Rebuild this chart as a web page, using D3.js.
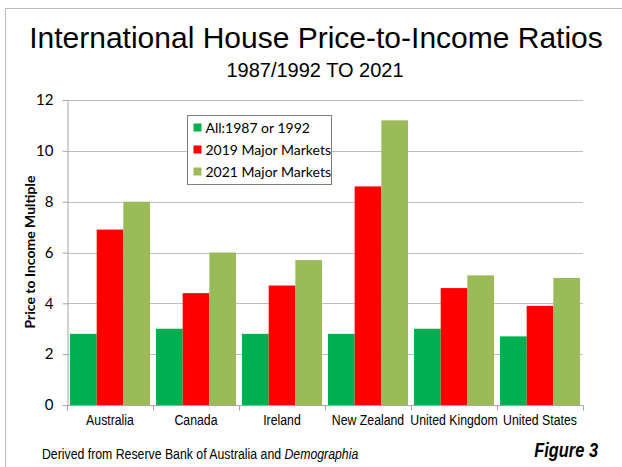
<!DOCTYPE html>
<html>
<head>
	<meta http-equiv="Content-Type" content="text/html;charset=utf-8"/>
	<title>International House Price-to-Income Ratios</title>
	<script src="https://d3js.org/d3.v7.min.js"></script>
	<style type="text/css">
		body { margin: 0; background: #fff; }
		.grid line { stroke: #bfbfbf; stroke-width: 1; }
		.axis path, .axis line { stroke: #a6a6a6; }
		.arial { font-family: "Liberation Sans", Arial, sans-serif; }
		.calibri { font-family: Lato, "Open Sans", sans-serif; }
	</style>
</head>
<body>
<svg width="622" height="467"></svg>

<script type="text/javascript">
// data
const countries = ["Australia", "Canada", "Ireland", "New Zealand", "United Kingdom", "United States"];
const seriesNames = ["All:1987 or 1992", "2019 Major Markets", "2021 Major Markets"];
const base = [2.8, 3.0, 2.8, 2.8, 3.0, 2.7];
const markets2019 = [6.9, 4.4, 4.7, 8.6, 4.6, 3.9];
const markets2021 = [8.0, 6.0, 5.7, 11.2, 5.1, 5.0];
const yTicks = [0, 2, 4, 6, 8, 10, 12];
const colors = ["#00b050", "#ff0000", "#9bbb59"];

const series = [base, markets2019, markets2021];
const rows = countries.map((c, i) => ({country: c, values: series.map(s => s[i])}));

const svg = d3.select("svg");
const margin = {left: 67, right: 39, top: 100, bottom: 62};
const width = +svg.attr("width");
const height = +svg.attr("height");
const squeeze = 0.82;  // the source chart text is horizontally condensed

// frame of the picture
svg.append("rect")
	.attr("x", 5.5).attr("y", 8.5)
	.attr("width", width).attr("height", height)
	.attr("fill", "none").attr("stroke", "#bdbdbd");

svg.append("text")
	.attr("class", "arial")
	.attr("x", 316).attr("y", 48)
	.attr("text-anchor", "middle")
	.style("font-size", "30px")
	.text("International House Price-to-Income Ratios");

svg.append("text")
	.attr("class", "arial")
	.attr("x", 315).attr("y", 77)
	.attr("text-anchor", "middle")
	.style("font-size", "20px")
	.text("1987/1992 TO 2021");

const x = d3.scaleBand()
	.domain(countries)
	.range([margin.left, width - margin.right])
	.paddingInner(0.07)
	.paddingOuter(0.035);

const xInner = d3.scaleBand()
	.domain(d3.range(series.length))
	.range([0, x.bandwidth()]);

const y = d3.scaleLinear()
	.domain([0, 12])
	.range([height - margin.bottom, margin.top]);

// gridlines
svg.append("g").attr("class", "grid")
	.selectAll("line")
	.data(yTicks.filter(t => t > 0))
	.enter().append("line")
		.attr("x1", margin.left).attr("x2", width - margin.right)
		.attr("y1", d => Math.round(y(d)) + 0.5)
		.attr("y2", d => Math.round(y(d)) + 0.5);

// bars
const groups = svg.append("g")
	.selectAll("g")
	.data(rows)
	.enter().append("g")
		.attr("transform", d => `translate(${x(d.country)},0)`);

groups.selectAll("rect")
	.data(d => d.values)
	.enter().append("rect")
		.attr("x", (v, i) => xInner(i))
		.attr("width", xInner.bandwidth())
		.attr("y", v => y(v))
		.attr("height", v => y(0) - y(v))
		.attr("fill", (v, i) => colors[i]);

// y axis
const yAxis = svg.append("g").attr("class", "axis calibri")
	.attr("transform", `translate(${margin.left + 0.5},0)`)
	.call(d3.axisLeft(y).tickValues(yTicks).tickSize(5).tickPadding(9));
yAxis.selectAll("text").style("font-size", "15px").attr("fill", "#000");

// x axis with ticks between categories
const xAxisG = svg.append("g").attr("class", "axis arial")
	.attr("transform", `translate(0,${y(0) + 0.5})`);
xAxisG.append("line")
	.attr("x1", margin.left).attr("x2", width - margin.right);
const step = (width - margin.left - margin.right) / countries.length;
xAxisG.selectAll(".sep")
	.data(d3.range(countries.length + 1))
	.enter().append("line")
		.attr("class", "sep")
		.attr("x1", i => Math.round(margin.left + i * step) + 0.5)
		.attr("x2", i => Math.round(margin.left + i * step) + 0.5)
		.attr("y1", 0).attr("y2", 5);
xAxisG.selectAll("text")
	.data(countries)
	.enter().append("text")
		.attr("transform", d => `translate(${x(d) + x.bandwidth() / 2},19) scale(${squeeze},1)`)
		.attr("text-anchor", "middle")
		.style("font-size", "15px")
		.text(d => d);

// y axis title
svg.append("text")
	.attr("class", "calibri")
	.attr("transform", "translate(35,252) rotate(-90)")
	.attr("text-anchor", "middle")
	.style("font-size", "14px")
	.style("font-weight", "bold")
	.text("Price to Income Multiple");

// legend
const legend = svg.append("g").attr("class", "calibri")
	.attr("transform", "translate(187.5,115.5)");
legend.append("rect")
	.attr("width", 144).attr("height", 69)
	.attr("fill", "#fff").attr("stroke", "#808080");
const items = legend.selectAll(".item")
	.data(seriesNames)
	.enter().append("g")
		.attr("class", "item")
		.attr("transform", (d, i) => `translate(6,${12 + i * 22})`);
items.append("rect")
	.attr("x", 0).attr("y", -4)
	.attr("width", 8).attr("height", 8)
	.attr("fill", (d, i) => colors[i]);
items.append("text")
	.attr("x", 12).attr("y", 5)
	.style("font-size", "14px")
	.text(d => d);

// footer
const footer = svg.append("text")
	.attr("class", "arial")
	.attr("transform", `translate(42,459) scale(${squeeze},1)`)
	.style("font-size", "15px");
footer.append("tspan").text("Derived from Reserve Bank of Australia and ");
footer.append("tspan").style("font-style", "italic").text("Demographia");

svg.append("text")
	.attr("class", "arial")
	.attr("transform", `translate(598,457) scale(${squeeze},1)`)
	.attr("text-anchor", "end")
	.style("font-size", "20px")
	.style("font-weight", "bold")
	.style("font-style", "italic")
	.text("Figure 3");
</script>
</body>
</html>
